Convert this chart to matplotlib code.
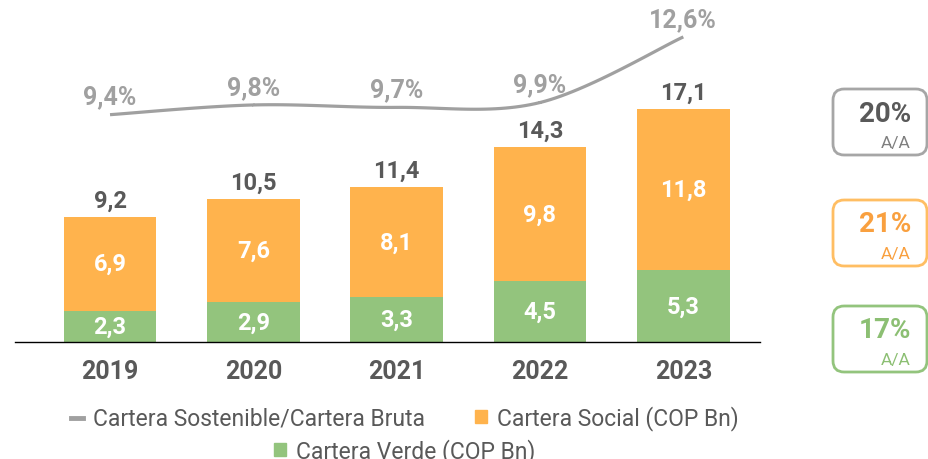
import numpy as np
import matplotlib
matplotlib.use("Agg")
import matplotlib.pyplot as plt
from matplotlib.patches import Patch, FancyBboxPatch
from matplotlib.lines import Line2D

plt.rcParams['font.family'] = ['Roboto', 'DejaVu Sans']

years = ["2019", "2020", "2021", "2022", "2023"]
verde = [2.3, 2.9, 3.3, 4.5, 5.3]
social = [6.9, 7.6, 8.1, 9.8, 11.8]
totales = [9.2, 10.5, 11.4, 14.3, 17.1]
ratio = [9.4, 9.8, 9.7, 9.9, 12.6]
growth = ["20%", "21%", "17%"]

C_ORANGE = "#FFB34D"
C_GREEN = "#93C47D"
C_GRAY = "#A0A0A0"
C_TEXT = "#595959"

W, H = 929, 460
fig = plt.figure(figsize=(W / 100, H / 100), dpi=100)

def fx(px):
    return px / W

def fy(py):
    return 1 - py / H

ax = fig.add_axes([fx(15), fy(343), fx(745), 343 / H])
x = np.arange(len(years))
bw = 0.646

ax.bar(x, verde, bw, color=C_GREEN, zorder=2)
ax.bar(x, social, bw, bottom=verde, color=C_ORANGE, zorder=2)

ax.set_xlim(-0.663, 4.535)
ax.set_ylim(0, 25.17)
for s in ["top", "right", "left"]:
    ax.spines[s].set_visible(False)
ax.spines["bottom"].set_color("black")
ax.spines["bottom"].set_linewidth(1.0)
ax.set_yticks([])
ax.set_xticks(x)
ax.set_xticklabels(years, fontsize=18, fontweight="bold", color=C_TEXT)
ax.tick_params(axis="x", length=0, pad=12)

def fmt(v):
    return f"{v:.1f}".replace(".", ",")

for i in range(len(years)):
    ax.text(x[i], verde[i] / 2, fmt(verde[i]), ha="center", va="center",
            color="white", fontsize=17, fontweight="bold", zorder=3)
    ax.text(x[i], verde[i] + social[i] / 2, fmt(social[i]), ha="center", va="center",
            color="white", fontsize=17, fontweight="bold", zorder=3)
    ax.annotate(fmt(totales[i]), (x[i], totales[i]), xytext=(0, 12),
                textcoords="offset points", ha="center", va="center",
                color=C_TEXT, fontsize=17, fontweight="bold")

# ratio line on a second axis, smoothed like the original
ax2 = ax.twinx()
ax2.set_ylim(0.046, 14.16)
ax2.axis("off")

def smooth(xs, ys, n=30):
    p = np.column_stack([xs, ys]).astype(float)
    p = np.vstack([p[0], p, p[-1]])
    out = []
    for k in range(1, len(p) - 2):
        p0, p1, p2, p3 = p[k - 1], p[k], p[k + 1], p[k + 2]
        t = np.linspace(0, 1, n)[:, None]
        seg = 0.5 * (2 * p1 + (-p0 + p2) * t + (2 * p0 - 5 * p1 + 4 * p2 - p3) * t ** 2
                     + (-p0 + 3 * p1 - 3 * p2 + p3) * t ** 3)
        out.append(seg)
    out = np.vstack(out)
    return out[:, 0], out[:, 1]

sx, sy = smooth(x, ratio)
ax2.plot(sx, sy, color=C_GRAY, lw=2.3, solid_capstyle="butt")
for i in range(len(years)):
    ax2.annotate(fmt(ratio[i]) + "%", (x[i], ratio[i]), xytext=(0, 13),
                 textcoords="offset points", ha="center", va="center",
                 color=C_GRAY, fontsize=18, fontweight="bold")

# legend, two rows
h_line = Line2D([], [], color=C_GRAY, lw=3.5)
h_soc = Patch(color=C_ORANGE)
h_ver = Patch(color=C_GREEN)
kw = dict(frameon=False, fontsize=16.5, labelcolor=C_TEXT, handlelength=0.5,
          handleheight=0.5, handletextpad=0.45, borderpad=0, borderaxespad=0)
fig.legend([h_line, h_soc], ["Cartera Sostenible/Cartera Bruta", "Cartera Social (COP Bn)"],
           loc="center", bbox_to_anchor=(fx(405), fy(419)), ncol=2, columnspacing=2.2, **kw)
fig.legend([h_ver], ["Cartera Verde (COP Bn)"],
           loc="center", bbox_to_anchor=(fx(405), fy(452)), **kw)

# growth boxes on the right
box_tops = [90, 201, 307]
edge_cols = ["#A6A6A6", "#FFBE63", "#93C47D"]
big_cols = [C_TEXT, "#F9A03F", "#8CBF73"]
small_cols = ["#7F7F7F", "#F9A03F", "#8CBF73"]
for top, g, ec, bc, sc in zip(box_tops, growth, edge_cols, big_cols, small_cols):
    box = FancyBboxPatch((fx(833), fy(top + 66)), fx(94), 66 / H,
                         boxstyle="round,pad=0,rounding_size=0.012",
                         transform=fig.transFigure, fill=False, ec=ec, lw=2.0,
                         mutation_aspect=W / H)
    fig.add_artist(box)
    fig.text(fx(911), fy(top + 24), g, ha="right", va="center",
             fontsize=20, fontweight="bold", color=bc)
    fig.text(fx(911), fy(top + 54), "A/A", ha="right", va="center",
             fontsize=12.5, color=sc)

fig.savefig("out.png", dpi=100)
